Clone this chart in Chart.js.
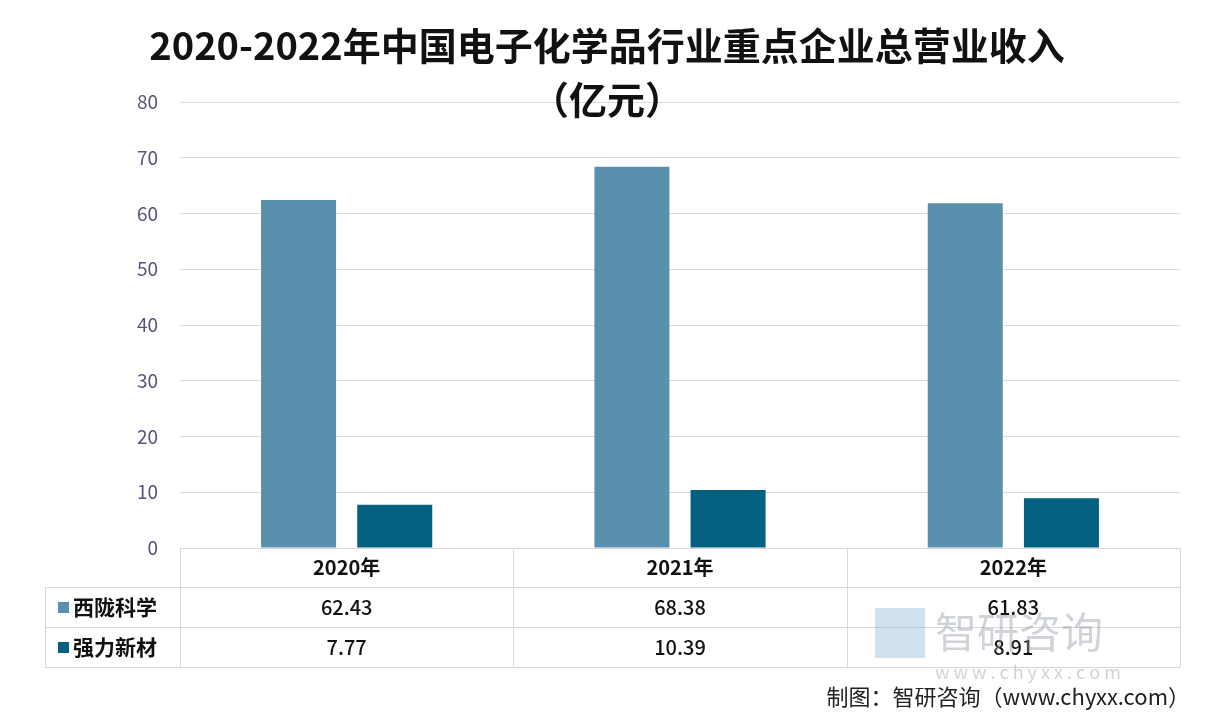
<!DOCTYPE html>
<html><head><meta charset="utf-8">
<script src="https://cdn.jsdelivr.net/npm/chart.js@4"></script>
<style>html,body{margin:0;padding:0;background:#fff}#w{position:relative;width:1216px;height:728px}</style>
</head><body><div id="w"><canvas id="c" width="1216" height="728"></canvas></div>
<script>
const categories = ['2020年','2021年','2022年'];
const seriesNames = ['西陇科学','强力新材'];
const xilong = [62.43, 68.38, 61.83];
const qiangli = [7.77, 10.39, 8.91];
const colors = ['#5b8fae','#04607f'];
const F = '"Noto Sans CJK SC","Noto Sans",sans-serif';

const tablePlugin = {
  id:'tbl',
  afterDraw(chart){
    const ctx = chart.ctx, a = chart.chartArea, xs = chart.scales.x;
    const rows=[a.bottom, a.bottom+39, a.bottom+79, a.bottom+119];
    const left=45;
    ctx.save();
    ctx.strokeStyle='#d9d9d9'; ctx.lineWidth=1;
    ctx.beginPath();
    ctx.moveTo(a.left,rows[0]+0.5); ctx.lineTo(a.right,rows[0]+0.5);
    for(let i=1;i<4;i++){ctx.moveTo(left,rows[i]+0.5);ctx.lineTo(a.right,rows[i]+0.5);}
    const step=(a.right-a.left)/categories.length;
    for(let i=0;i<=categories.length;i++){const x=Math.round(a.left+i*step)+0.5;ctx.moveTo(x,rows[0]);ctx.lineTo(x,rows[3]);}
    ctx.moveTo(left+0.5,rows[1]);ctx.lineTo(left+0.5,rows[3]);
    ctx.stroke();
    ctx.textAlign='center'; ctx.textBaseline='middle'; ctx.fillStyle='#111';
    ctx.font='bold 20px '+F;
    categories.forEach((c,i)=>ctx.fillText(c, xs.getPixelForValue(i), (rows[0]+rows[1])/2));
    const data=[xilong,qiangli];
    ctx.font='500 20px '+F;
    data.forEach((d,r)=>d.forEach((v,i)=>ctx.fillText(v.toFixed(2), xs.getPixelForValue(i), (rows[r+1]+rows[r+2])/2)));
    ctx.textAlign='left'; ctx.font='bold 21px '+F;
    seriesNames.forEach((n,r)=>{const y=(rows[r+1]+rows[r+2])/2;ctx.fillStyle=colors[r];ctx.fillRect(58,y-5,11,11);ctx.fillStyle='#111';ctx.fillText(n,73,y);});
    ctx.textAlign='center'; ctx.fillStyle='#111'; ctx.font='bold 38px '+F;
    ctx.fillText('2020-2022年中国电子化学品行业重点企业总营业收入',607,46);
    ctx.fillText('（亿元）',607,100);
    ctx.font='42px '+F; ctx.fillStyle='rgba(150,160,170,0.45)'; ctx.textAlign='left';
    ctx.fillText('智研咨询',935,632);
    ctx.font='18px '+F; ctx.fillText('w w w . c h y x x . c o m',935,672);
    ctx.fillStyle='rgba(120,170,210,0.35)'; ctx.fillRect(875,608,50,50);
    ctx.fillStyle='#222'; ctx.font='22px '+F; ctx.textAlign='right';
    ctx.fillText('制图：智研咨询（www.chyxx.com）',1190,697);
    ctx.restore();
  }
};

new Chart(document.getElementById('c'),{
  type:'bar',
  data:{labels:categories,datasets:[
    {label:seriesNames[0],data:xilong,backgroundColor:colors[0],categoryPercentage:0.577,barPercentage:0.78},
    {label:seriesNames[1],data:qiangli,backgroundColor:colors[1],categoryPercentage:0.577,barPercentage:0.78}
  ]},
  options:{responsive:false,animation:false,
    layout:{padding:{top:102,bottom:180,right:36,left:0}},
    plugins:{legend:{display:false},title:{display:false},tooltip:{enabled:false}},
    scales:{
      x:{display:false},
      y:{min:0,max:80,ticks:{stepSize:10,color:'#5a5478',font:{size:19,family:F},padding:22},
         grid:{color:'#d9d9d9',drawTicks:false},border:{display:false},
         afterFit(s){s.width=180;}}
    }
  },
  plugins:[tablePlugin]
});
</script></body></html>
